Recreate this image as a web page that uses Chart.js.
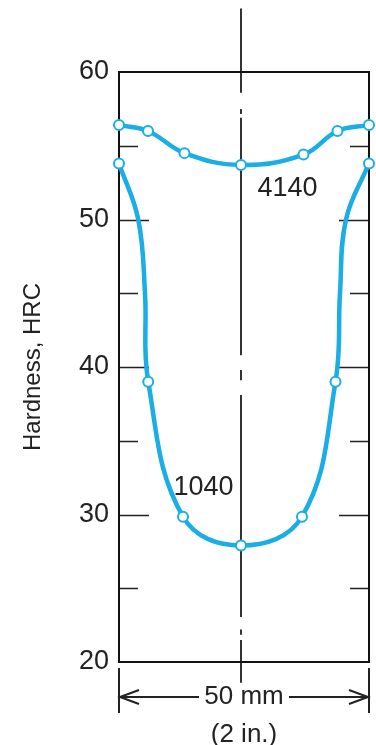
<!DOCTYPE html>
<html>
<head>
<meta charset="utf-8">
<script src="https://cdn.jsdelivr.net/npm/chart.js@4.4.1/dist/chart.umd.min.js"></script>
<style>
  html, body { margin: 0; padding: 0; background: #fff; }
  #wrap { width: 376px; height: 745px; }
</style>
</head>
<body>
<div id="wrap"><canvas id="chart"></canvas></div>
<script>
// position across the 50 mm bar (mm) and hardness (HRC)
const steel4140X = [0, 5.8, 13.1, 24.4, 36.9, 43.7, 50];
const steel4140Y = [56.4, 56.0, 54.5, 53.7, 54.4, 56.0, 56.4];

// 1040 curve traced along its path; 1 = measured point (drawn with a circle)
const steel1040X = [0, 3.85, 5.2, 5.85, 12.8, 24.4, 36.6, 43.3, 44.2, 45.4, 50];
const steel1040Y = [53.8, 50.0, 45.0, 39.0, 29.85, 27.9, 29.85, 39.0, 45.0, 50.0, 53.8];
const steel1040Marked = [1, 0, 0, 1, 1, 1, 1, 1, 0, 0, 1];

const majorTicks = [30, 40, 50];
const minorTicks = [25, 35, 45, 55];

const FONT = "'Liberation Sans', Arial, sans-serif";
const BLUE = "#1aaee5";
const INK = "#222";

// centre line (dash-dot), in HRC units
const CENTER_X = 24.4;
const centerSegments = [[64.3, 58.6], [57.5, 57.15], [56.9, 40.8], [39.8, 39.1], [38.1, 23.05], [22.2, 21.85], [21.5, 18.6]];

const toPoints = (xs, ys) => xs.map((x, i) => ({ x: x, y: ys[i] }));

const frame = {
  id: "frame",
  beforeDatasetsDraw(chart) {
    const { ctx, chartArea: a, scales: { x, y } } = chart;
    ctx.save();
    ctx.strokeStyle = INK;
    // inner ticks, both sides
    ctx.lineWidth = 1.5;
    const tick = (v, len) => {
      const py = Math.round(y.getPixelForValue(v)) + 0.5;
      ctx.beginPath();
      ctx.moveTo(a.left, py); ctx.lineTo(a.left + len, py);
      ctx.moveTo(a.right, py); ctx.lineTo(a.right - len, py);
      ctx.stroke();
    };
    majorTicks.forEach(v => tick(v, 30));
    minorTicks.forEach(v => tick(v, 19));
    // centre line
    ctx.strokeStyle = "#333";
    ctx.lineWidth = 2;
    const cx = x.getPixelForValue(CENTER_X);
    centerSegments.forEach(([a1, a2]) => {
      ctx.beginPath();
      ctx.moveTo(cx, y.getPixelForValue(a1));
      ctx.lineTo(cx, y.getPixelForValue(a2));
      ctx.stroke();
    });
    // box
    ctx.strokeStyle = "#111";
    ctx.lineWidth = 2;
    ctx.strokeRect(a.left, a.top, a.right - a.left, a.bottom - a.top);
    ctx.restore();
  },
  afterDraw(chart) {
    const { ctx, chartArea: a, scales: { x, y } } = chart;
    ctx.save();
    ctx.fillStyle = INK;
    ctx.font = "27px " + FONT;
    ctx.textAlign = "center";
    ctx.textBaseline = "middle";
    ctx.fillText("4140", x.getPixelForValue(33.7), y.getPixelForValue(52.1));
    ctx.fillText("1040", x.getPixelForValue(16.9), y.getPixelForValue(31.8));

    // dimension line under the box
    const x0 = x.getPixelForValue(0), x1 = x.getPixelForValue(50);
    const ay = a.bottom + 35;
    ctx.strokeStyle = INK;
    ctx.lineWidth = 2;
    ctx.beginPath();
    ctx.moveTo(x0, a.bottom + 6); ctx.lineTo(x0, a.bottom + 51);
    ctx.moveTo(x1, a.bottom + 6); ctx.lineTo(x1, a.bottom + 51);
    ctx.moveTo(x0, ay); ctx.lineTo(x0 + 80, ay);
    ctx.moveTo(x1, ay); ctx.lineTo(x1 - 80, ay);
    ctx.moveTo(x0 + 20, ay - 7); ctx.lineTo(x0 + 1, ay); ctx.lineTo(x0 + 20, ay + 7);
    ctx.moveTo(x1 - 20, ay - 7); ctx.lineTo(x1 - 1, ay); ctx.lineTo(x1 - 20, ay + 7);
    ctx.stroke();
    const mid = (x0 + x1) / 2;
    ctx.font = "26px " + FONT;
    ctx.fillText("50 mm", mid, ay);
    ctx.fillText("(2 in.)", mid, ay + 38);
    ctx.restore();
  }
};

new Chart(document.getElementById("chart"), {
  type: "line",
  data: {
    datasets: [
      {
        label: "4140",
        data: toPoints(steel4140X, steel4140Y),
        borderColor: BLUE,
        borderWidth: 4.5,
        tension: 0.4,
        pointRadius: 5,
        pointBackgroundColor: "#fff",
        pointBorderColor: BLUE,
        pointBorderWidth: 2,
        clip: false
      },
      {
        label: "1040",
        data: toPoints(steel1040X, steel1040Y),
        borderColor: BLUE,
        borderWidth: 4.5,
        tension: 0.4,
        pointRadius: steel1040Marked.map(m => m ? 5 : 0),
        pointBackgroundColor: "#fff",
        pointBorderColor: BLUE,
        pointBorderWidth: 2,
        clip: false
      }
    ]
  },
  options: {
    responsive: true,
    maintainAspectRatio: false,
    animation: false,
    devicePixelRatio: 1,
    layout: { padding: { top: 72, bottom: 83, left: 0, right: 6 } },
    plugins: { legend: { display: false }, tooltip: { enabled: false } },
    scales: {
      x: { type: "linear", min: 0, max: 50, display: false },
      y: {
        min: 20,
        max: 60,
        ticks: { stepSize: 10, color: INK, font: { family: FONT, size: 27 }, padding: 10 },
        grid: { display: false, drawTicks: false },
        border: { display: false },
        title: {
          display: true,
          text: "Hardness, HRC",
          color: INK,
          font: { family: FONT, size: 24 },
          padding: { top: 19, bottom: 0 }
        },
        afterFit(scale) { scale.width = 119; }
      }
    }
  },
  plugins: [frame]
});
</script>
</body>
</html>
